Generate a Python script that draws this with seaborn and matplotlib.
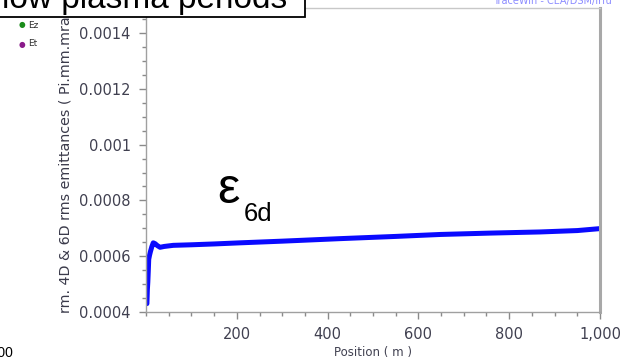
import matplotlib
matplotlib.use("Agg")
import matplotlib.pyplot as plt
import seaborn as sns
import pandas as pd
from matplotlib.patches import Rectangle
from matplotlib.ticker import MultipleLocator, FixedLocator

# ---- data ----
position = [2, 3, 4, 5, 6, 8, 10, 13, 16, 20, 25, 31, 40, 60, 100, 150, 207,
            300, 427, 550, 648, 760, 868, 950, 1000]
emit_6d = [0.00043, 0.00048, 0.000507, 0.000546, 0.000589, 0.000605, 0.000618,
           0.000635, 0.000648, 0.000645, 0.000638, 0.000632, 0.000635, 0.000639,
           0.000641, 0.000644, 0.000648, 0.000654, 0.000663, 0.000671, 0.000678,
           0.000683, 0.000687, 0.000692, 0.000699]
x_ticks = [200, 400, 600, 800, 1000]
x_tick_labels = ["200", "400", "600", "800", "1,000"]
y_ticks = [0.0004, 0.0006, 0.0008, 0.001, 0.0012, 0.0014]
y_tick_labels = ["0.0004", "0.0006", "0.0008", "0.001", "0.0012", "0.0014"]
legend_names = ["Ez", "Et"]
legend_colors = ["#1a8c1a", "#8a1a8a"]

df = pd.DataFrame({"Position": position, "Emittance": emit_6d})

sns.set_theme(style="white")
plt.rcParams["font.family"] = ["DejaVu Sans"]

W, H = 621, 362
fig = plt.figure(figsize=(W / 100, H / 100), dpi=100)
fig.patch.set_facecolor("white")


def fx(px):
    return px / W


def fy(py):
    return 1 - py / H


ax = fig.add_axes([fx(146), fy(312), fx(600) - fx(146), fy(8) - fy(312)])
sns.lineplot(data=df, x="Position", y="Emittance", ax=ax, color="#0a0aff",
             lw=3.6, solid_capstyle="round")

ax.set_xlim(0, 1000)
ax.set_ylim(0.0004, 0.00149)
ax.xaxis.set_major_locator(FixedLocator(x_ticks))
ax.set_xticklabels(x_tick_labels)
ax.xaxis.set_minor_locator(MultipleLocator(50))
ax.yaxis.set_major_locator(FixedLocator(y_ticks))
ax.set_yticklabels(y_tick_labels)
ax.yaxis.set_minor_locator(MultipleLocator(0.00005))
ax.set_xlabel("Position ( m )", fontsize=8.5, color="#404050", labelpad=3)
ax.set_ylabel("")
ax.tick_params(axis="both", which="major", direction="out", length=5, width=1,
               color="#8a8a8a", labelsize=10.5, labelcolor="#404050", pad=6)
ax.tick_params(axis="both", which="minor", direction="out", length=3, width=1,
               color="#8a8a8a")
ax.tick_params(axis="x", which="both", bottom=True)
ax.tick_params(axis="y", which="both", left=True)
for side in ["left", "bottom"]:
    ax.spines[side].set_color("#a0a0a0")
    ax.spines[side].set_linewidth(1.0)
ax.spines["top"].set_color("#c8c8c8")
ax.spines["top"].set_linewidth(1.0)
ax.spines["right"].set_color("#a8a8a8")
ax.spines["right"].set_linewidth(2.2)

# y label (clipped by the box at top)
fig.text(fx(66), fy(313), "rm. 4D & 6D rms emittances ( Pi.mm.mrad )",
         rotation=90, ha="center", va="bottom", fontsize=10.3, color="#3a3a4a")

# epsilon annotation
fig.text(fx(217), fy(203), "\u03b5", fontsize=36, family="Liberation Sans",
         va="baseline", ha="left", color="black")
fig.text(fx(244), fy(221), "6d", fontsize=18.5, family="Liberation Sans",
         va="baseline", ha="left", color="black")

# title box clipped at top-left
fig.add_artist(Rectangle((fx(-10), fy(17)), fx(305) - fx(-10), fy(-40) - fy(17),
                         transform=fig.transFigure, facecolor="white",
                         edgecolor="black", lw=1.3, zorder=5))
fig.text(fx(2), fy(8), "low plasma periods", fontsize=24,
         family="Liberation Sans", va="baseline", ha="left", color="black",
         zorder=6)

# small legend at left
for i, (name, col) in enumerate(zip(legend_names, legend_colors)):
    yy = 25 + 19 * i
    fig.text(fx(22), fy(yy), "\u25cf", fontsize=5.5, color=col, ha="center",
             va="center")
    fig.text(fx(28), fy(yy), name, fontsize=6.5, color="#303030", ha="left",
             va="center")

# faint blue header text at top-right (clipped)
fig.text(fx(612), fy(1), "TraceWin - CEA/DSM/Irfu", fontsize=7,
         color="#7070ff", ha="right", va="center", alpha=0.8)

# partial number at bottom-left
fig.text(fx(13), fy(357), "1000", fontsize=10, family="Liberation Sans",
         color="black", ha="right", va="baseline")

fig.savefig("out.png", dpi=100, facecolor="white")
